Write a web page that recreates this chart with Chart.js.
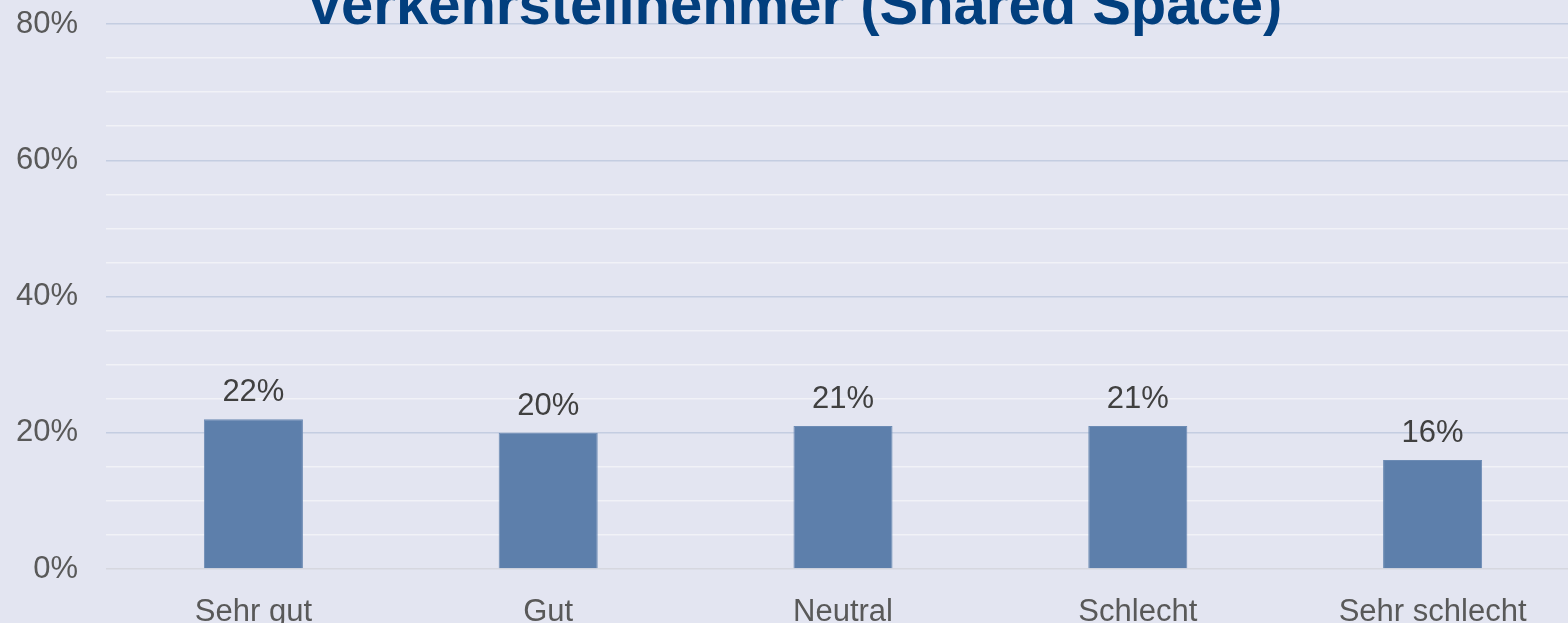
<!DOCTYPE html>
<html>
<head>
<meta charset="utf-8">
<script src="https://cdn.jsdelivr.net/npm/chart.js@4.4.0/dist/chart.umd.min.js"></script>
<style>
  html, body { margin: 0; padding: 0; background: #e3e5f1; overflow: hidden; }
  #wrap { position: relative; width: 1580px; height: 623px; }
</style>
</head>
<body>
<div id="wrap"><canvas id="chart"></canvas></div>
<script>
// chart data
const chartTitle = 'Verkehrsteilnehmer (Shared Space)';
const categories = ['Sehr gut', 'Gut', 'Neutral', 'Schlecht', 'Sehr schlecht'];
const shares = [22, 20, 21, 21, 16];
const yMax = 80;
const yStep = 5;
const majorEvery = 20;

const font = 'Liberation Sans, Arial, sans-serif';

// title drawn over the top of the plot, like the original
const titlePlugin = {
    id: 'titleOverlay',
    afterDraw(chart) {
        const ctx = chart.ctx;
        ctx.save();
        ctx.font = 'bold 58px ' + font;
        ctx.fillStyle = '#023f7e';
        ctx.textAlign = 'center';
        ctx.textBaseline = 'alphabetic';
        ctx.fillText(chartTitle, 794, 24);
        ctx.restore();
    }
};

// value labels above bars
const valueLabels = {
    id: 'valueLabels',
    afterDatasetsDraw(chart) {
        const ctx = chart.ctx;
        const meta = chart.getDatasetMeta(0);
        ctx.save();
        ctx.font = '31px ' + font;
        ctx.fillStyle = '#404040';
        ctx.textAlign = 'center';
        ctx.textBaseline = 'alphabetic';
        meta.data.forEach((bar, i) => {
            ctx.fillText(shares[i] + '%', bar.x, bar.y - 18);
        });
        ctx.restore();
    }
};

new Chart(document.getElementById('chart'), {
    type: 'bar',
    data: {
        labels: categories,
        datasets: [{
            data: shares,
            backgroundColor: '#5d7fab',
            borderColor: '#6c8bb4',
            borderWidth: 1,
            barPercentage: 1,
            categoryPercentage: 0.336
        }]
    },
    options: {
        responsive: true,
        maintainAspectRatio: false,
        animation: false,
        layout: { padding: { top: 24, right: 0, bottom: 0, left: 0 } },
        plugins: { legend: { display: false }, tooltip: { enabled: false } },
        scales: {
            x: {
                grid: { display: false },
                border: { display: false },
                ticks: { color: '#595959', font: { family: font, size: 31 }, padding: 17, maxRotation: 0 },
                afterFit(scale) {
                    scale.height = 54;
                    scale.paddingLeft = 0;
                    scale.paddingRight = 0;
                }
            },
            y: {
                min: 0,
                max: yMax,
                border: { display: false },
                grid: {
                    drawTicks: false,
                    lineWidth: 1.5,
                    color: (c) => {
                        const v = c.tick.value;
                        if (v === 0) return '#d6d7df';
                        if (v % majorEvery === 0) return '#c4cde1';
                        return '#f1f2f7';
                    }
                },
                ticks: {
                    stepSize: yStep,
                    maxTicksLimit: 30,
                    autoSkip: false,
                    color: '#595959',
                    font: { family: font, size: 31 },
                    padding: 28,
                    callback: (v) => (v % majorEvery === 0 ? v + '%' : '')
                },
                afterFit(scale) {
                    scale.width = 106;
                    scale.paddingTop = 0;
                    scale.paddingBottom = 0;
                }
            }
        }
    },
    plugins: [valueLabels, titlePlugin]
});
</script>
</body>
</html>
